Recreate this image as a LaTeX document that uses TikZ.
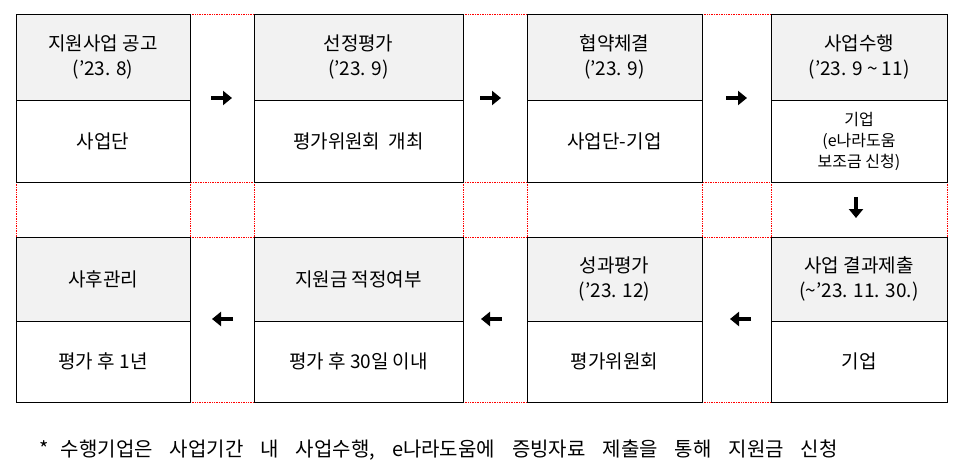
\documentclass[tikz,border=0pt]{standalone}
\usepackage{fontspec}
\setmainfont{Noto Sans CJK KR}
\usetikzlibrary{arrows.meta}
\begin{document}
\begin{tikzpicture}[x=1pt,y=-1pt,
  hd/.style={draw=black,line width=0.8pt,fill=gray!10},
  bd/.style={draw=black,line width=0.8pt},
  rd/.style={draw=red,densely dotted,line width=0.7pt},
  tx/.style={font=\fontsize{19}{25}\selectfont,align=center},
  arr/.style={line width=4pt,-{Triangle[length=9pt,width=14pt]}}]
\useasboundingbox (0,0) rectangle (963,473);
\foreach \a/\b in {190/254,463/527,702/771}{
  \draw[rd] (\a,14)--(\b,14);
  \draw[rd] (\a,237)--(\b,237);
  \draw[rd] (\a,402)--(\b,402);}
\draw[rd] (16,182)--(947,182);
\foreach \x in {16,190,254,463,527,702,771,947}{\draw[rd] (\x,182)--(\x,237);}
\foreach \l/\r/\n in {16/190/a,254/463/b,527/702/c,771/947/d}{
  \draw[hd] (\l,14) rectangle (\r,100);
  \draw[bd] (\l,100) rectangle (\r,182);
  \coordinate (h\n) at ({(\l+\r)/2},57);
  \coordinate (b\n) at ({(\l+\r)/2},141);
  \draw[hd] (\l,237) rectangle (\r,321);
  \draw[bd] (\l,321) rectangle (\r,402);
  \coordinate (H\n) at ({(\l+\r)/2},279);
  \coordinate (B\n) at ({(\l+\r)/2},361);}
\node[tx] (t1) at (ha) {지원사업 공고\\('23. 8)};
\node[tx] (t2) at (hb) {선정평가\\('23. 9)};
\node[tx] (t3) at (hc) {협약체결\\('23. 9)};
\node[tx] (t4) at (hd) {사업수행\\('23. 9 \textasciitilde{} 11)};
\node[tx] (u1) at (ba) {사업단};
\node[tx] (u2) at (bb) {평가위원회 \ 개최};
\node[tx] (u3) at (bc) {사업단-기업};
\node[tx,font=\fontsize{16}{21}\selectfont] (u4) at (bd) {기업\\(e나라도움\\보조금 신청)};
\node[tx] (T1) at (Ha) {사후관리};
\node[tx] (T2) at (Hb) {지원금 적정여부};
\node[tx] (T3) at (Hc) {성과평가\\('23. 12)};
\node[tx] (T4) at (Hd) {사업 결과제출\\(\textasciitilde'23. 11. 30.)};
\node[tx] (U1) at (Ba) {평가 후 1년};
\node[tx] (U2) at (Bb) {평가 후 30일 이내};
\node[tx] (U3) at (Bc) {평가위원회};
\node[tx] (U4) at (Bd) {기업};
\coordinate (r1) at (222,98); \coordinate (r2) at (491,98); \coordinate (r3) at (737,98);
\draw[arr] ([xshift=-11]r1)--([xshift=10]r1);
\draw[arr] ([xshift=-11]r2)--([xshift=10]r2);
\draw[arr] ([xshift=-11]r3)--([xshift=10]r3);
\coordinate (dn) at (856,208);
\draw[arr] ([yshift=11]dn)--([yshift=-10]dn);
\coordinate (l1) at (222,319); \coordinate (l2) at (491,319); \coordinate (l3) at (740,319);
\draw[arr] ([xshift=11]l1)--([xshift=-10]l1);
\draw[arr] ([xshift=11]l2)--([xshift=-10]l2);
\draw[arr] ([xshift=11]l3)--([xshift=-10]l3);
\node[anchor=west,font=\fontsize{20}{25}\selectfont] (note) at (36,450) {*\hspace{12pt}수행기업은\hspace{17pt}사업기간\hspace{17pt}내\hspace{17pt}사업수행,\hspace{17pt}e나라도움에\hspace{17pt}증빙자료\hspace{17pt}제출을\hspace{17pt}통해\hspace{17pt}지원금\hspace{17pt}신청};
\end{tikzpicture}
\end{document}
